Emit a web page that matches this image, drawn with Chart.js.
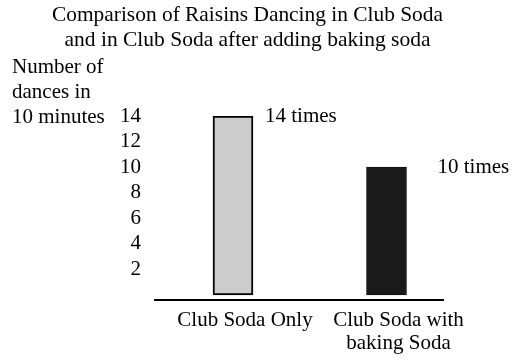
<!DOCTYPE html>
<html>
<head>
<meta charset="utf-8">
<script src="https://cdn.jsdelivr.net/npm/chart.js@4/dist/chart.umd.min.js"></script>
<style>
  html, body { margin: 0; padding: 0; background: #ffffff; }
  #chart { display: block; }
</style>
</head>
<body>
<canvas id="chart" width="512" height="364"></canvas>
<script>
// Raisin dances counted over 10 minutes
const categories = ['Club Soda Only', ['Club Soda with', 'baking Soda']];
const dances = [14, 10];
const yTickValues = [2, 4, 6, 8, 10, 12, 14];
const titleLines = ['Comparison of Raisins Dancing in Club Soda', 'and in Club Soda after adding baking soda'];
const yCaption = ['Number of', 'dances in', '10 minutes'];

const FONT = "'Liberation Serif', 'Times New Roman', serif";
const barFills = ['#cccccc', '#1a1a1a'];
const barEdges = ['#000000', '#111111'];
const barEdgeWidths = [2, 1];
// horizontal gap between each bar's right edge and its value note
const noteGaps = [12, 31];

// Writes the caption at the top-left and the "N times" notes
const annotations = {
  id: 'annotations',
  afterDraw(chart) {
    const ctx = chart.ctx;
    const top = chart.chartArea.top;
    ctx.save();
    ctx.fillStyle = '#000';
    ctx.font = '21px ' + FONT;
    ctx.textAlign = 'left';
    ctx.textBaseline = 'middle';
    yCaption.forEach((line, i) => {
      ctx.fillText(line, 12, top + 1 - (yCaption.length - 1 - i) * 25);
    });
    const meta = chart.getDatasetMeta(0);
    meta.data.forEach((bar, i) => {
      const x = bar.x + bar.width / 2 + noteGaps[i];
      ctx.fillText(dances[i] + ' times', x, bar.y);
    });
    ctx.restore();
  }
};

Chart.defaults.font.family = FONT;

new Chart(document.getElementById('chart'), {
  type: 'bar',
  data: {
    datasets: [{
      data: dances.map((v, i) => ({ x: i, y: v })),
      backgroundColor: barFills,
      borderColor: barEdges,
      borderWidth: barEdgeWidths,
      borderSkipped: false,
      barThickness: 40
    }]
  },
  options: {
    responsive: false,
    animation: false,
    devicePixelRatio: 1,
    layout: { padding: { left: 52, right: 69, top: 0, bottom: 0 } },
    plugins: {
      legend: { display: false },
      tooltip: { enabled: false },
      title: {
        display: true,
        text: titleLines,
        color: '#000',
        font: { family: FONT, size: 21.5, weight: 'normal', lineHeight: '25px' },
        padding: { top: 2.5, bottom: 63.5 }
      }
    },
    scales: {
      x: {
        type: 'linear',
        offset: false,
        min: -0.508,
        max: 1.368,
        grid: { display: false, drawTicks: false },
        border: { display: true, color: '#000', width: 2 },
        afterBuildTicks(axis) {
          axis.ticks = categories.map((c, i) => ({ value: i }));
        },
        ticks: {
          color: '#000',
          padding: 9,
          labelOffset: 12,
          maxRotation: 0,
          autoSkip: false,
          font: { family: FONT, size: 21, lineHeight: '23px' },
          callback: (v) => categories[v]
        }
      },
      y: {
        min: -0.4,
        max: 14,
        grid: { display: false, drawTicks: false },
        border: { display: false },
        afterBuildTicks(axis) {
          axis.ticks = yTickValues.map(v => ({ value: v }));
        },
        afterFit(axis) { axis.width = 103; },
        ticks: {
          color: '#000',
          padding: 14,
          font: { family: FONT, size: 21 }
        }
      }
    }
  },
  plugins: [annotations]
});
</script>
</body>
</html>
